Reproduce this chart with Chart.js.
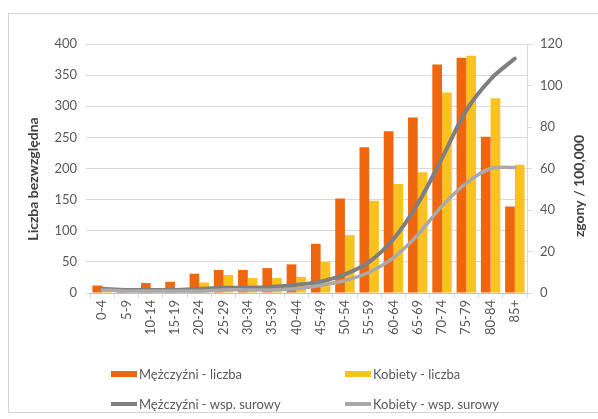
<!DOCTYPE html>
<html lang="pl">
<head>
<meta charset="utf-8">
<title>Zgony według wieku i płci</title>
<script src="https://cdn.jsdelivr.net/npm/chart.js@4/dist/chart.umd.min.js"></script>
<style>
  html, body { margin: 0; padding: 0; background: #ffffff; }
  #wrap { position: relative; width: 598px; height: 419px; overflow: hidden; font-family: Lato, "Open Sans", sans-serif; }
  #frame { position: absolute; left: 8px; top: 13px; width: 600px; height: 400px; border: 1px solid #d4d4d4; box-sizing: border-box; }
  #chart { position: absolute; left: 0; top: 0; }
  .leg { position: absolute; display: flex; align-items: center; font-size: 13px; color: #595959; white-space: nowrap; line-height: 16px; }
  .leg .sw { display: inline-block; width: 26px; margin-right: 2px; }
</style>
</head>
<body>
<div id="wrap">
  <div id="frame"></div>
  <canvas id="chart" width="598" height="419"></canvas>
  <div id="legend"></div>
</div>
<script>
// Age groups
const ageGroups = ['0-4','5-9','10-14','15-19','20-24','25-29','30-34','35-39','40-44',
                   '45-49','50-54','55-59','60-64','65-69','70-74','75-79','80-84','85+'];

// Number of deaths (left axis)
const menCount   = [12, 2, 16, 18, 31, 37, 37, 40, 46, 79, 152, 234, 260, 282, 367, 378, 251, 139];
const womenCount = [3, 1, 2, 3, 17, 29, 24, 24, 26, 50, 93, 148, 175, 194, 322, 381, 313, 206];

// Crude rate per 100,000 (right axis)
const menRate   = [2, 1.5, 1.5, 1.5, 2, 2.5, 2.5, 3, 4, 5.5, 9, 15, 26, 43, 65, 88, 103, 113];
const womenRate = [1.5, 1, 1, 1, 1, 1.5, 1.5, 1.5, 2, 3.7, 6, 10, 17, 28, 42, 53, 60, 60.5];

// Axis ticks
const countTicks = { min: 0, max: 400, step: 50 };
const rateTicks  = { min: 0, max: 120, step: 20 };

// Series names
const seriesNames = ['Mężczyźni - liczba', 'Kobiety - liczba', 'Mężczyźni - wsp. surowy', 'Kobiety - wsp. surowy'];
const leftTitle = 'Liczba bezwzględna';
const rightTitle = 'zgony / 100,000';

const FONT = 'Lato, "Open Sans", sans-serif';
const TICK_COLOR = '#595959';
const GRID = '#d9d9d9';

// Both axis titles read bottom-to-top
const axisTitles = {
  id: 'axisTitles',
  afterDraw(chart) {
    const ctx = chart.ctx;
    const a = chart.chartArea;
    ctx.save();
    ctx.font = 'bold 14px ' + FONT;
    ctx.fillStyle = '#404040';
    ctx.textAlign = 'center';
    ctx.textBaseline = 'middle';
    const draw = (text, x, y) => {
      ctx.save();
      ctx.translate(x, y);
      ctx.rotate(-Math.PI / 2);
      ctx.fillText(text, 0, 0);
      ctx.restore();
    };
    draw(leftTitle, 33, a.top + 135);
    draw(rightTitle, chart.scales.y1.right - 19, a.top + 142);
    ctx.restore();
  }
};

const chart = new Chart(document.getElementById('chart'), {
  type: 'bar',
  data: {
    labels: ageGroups,
    datasets: [
      { type: 'bar', label: seriesNames[0], data: menCount, yAxisID: 'y',
        backgroundColor: '#ee670f', barPercentage: 1.0, categoryPercentage: 0.8, order: 2 },
      { type: 'bar', label: seriesNames[1], data: womenCount, yAxisID: 'y',
        backgroundColor: '#f9c21f', barPercentage: 1.0, categoryPercentage: 0.8, order: 2 },
      { type: 'line', label: seriesNames[2], data: menRate, yAxisID: 'y1',
        borderColor: '#7f7f7f', backgroundColor: '#7f7f7f', borderWidth: 4,
        pointRadius: 0, tension: 0.35, order: 1, borderCapStyle: 'round' },
      { type: 'line', label: seriesNames[3], data: womenRate, yAxisID: 'y1',
        borderColor: '#a9a9a9', backgroundColor: '#a9a9a9', borderWidth: 3.5,
        pointRadius: 0, tension: 0.35, order: 0, borderCapStyle: 'round' }
    ]
  },
  options: {
    responsive: false,
    animation: false,
    devicePixelRatio: 1,
    layout: { padding: { top: 44, left: 0, right: 0, bottom: 0 } },
    plugins: { legend: { display: false }, tooltip: { enabled: false } },
    scales: {
      x: {
        afterFit: s => { s.height = 126; },
        grid: { drawOnChartArea: false, drawTicks: true, tickLength: 5, color: GRID, offset: true },
        border: { display: true, color: '#bfbfbf' },
        ticks: { autoSkip: false, minRotation: 90, maxRotation: 90, padding: 2,
                 color: TICK_COLOR, font: { family: FONT, size: 13 } }
      },
      y: {
        position: 'left',
        min: countTicks.min, max: countTicks.max,
        afterFit: s => { s.width = 90; },
        grid: { color: GRID, tickLength: 4 },
        border: { display: false },
        ticks: { stepSize: countTicks.step, padding: 9, color: TICK_COLOR, font: { family: FONT, size: 13 } }
      },
      y1: {
        position: 'right',
        min: rateTicks.min, max: rateTicks.max,
        afterFit: s => { s.width = 71; },
        grid: { drawOnChartArea: false, tickLength: 5, color: GRID },
        border: { display: true, color: GRID },
        ticks: { stepSize: rateTicks.step, padding: 8, color: TICK_COLOR, font: { family: FONT, size: 13 } }
      }
    }
  },
  plugins: [axisTitles]
});

// Legend in a 2 x 2 grid, built from the datasets
const legendEl = document.getElementById('legend');
const cols = [111, 345];
const rows = [374, 404];
chart.data.datasets.forEach((ds, i) => {
  const item = document.createElement('div');
  item.className = 'leg';
  item.style.left = cols[i % 2] + 'px';
  item.style.top = (rows[Math.floor(i / 2)] - 8) + 'px';
  const sw = document.createElement('span');
  sw.className = 'sw';
  sw.style.background = ds.type === 'line' ? ds.borderColor : ds.backgroundColor;
  sw.style.height = ds.type === 'line' ? '4px' : '6px';
  const tx = document.createElement('span');
  tx.textContent = ds.label;
  item.appendChild(sw);
  item.appendChild(tx);
  legendEl.appendChild(item);
});
</script>
</body>
</html>
